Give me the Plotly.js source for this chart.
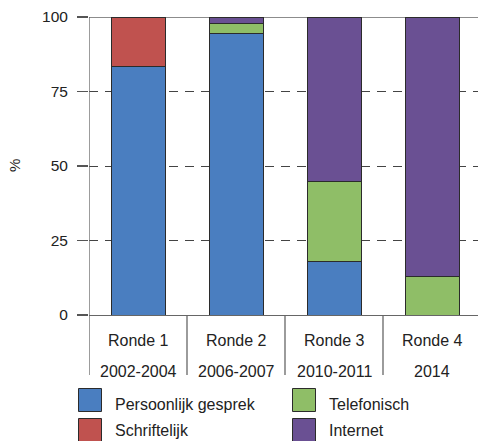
<!DOCTYPE html>
<html>
<head>
<meta charset="utf-8">
<script src="https://cdn.plot.ly/plotly-3.0.1.min.js"></script>
<style>html,body{margin:0;padding:0;background:#fff;}#chart{width:478px;height:441px;}</style>
</head>
<body>
<div id="chart"></div>
<script>
var categories = ["Ronde 1", "Ronde 2", "Ronde 3", "Ronde 4"];
var periods = ["2002-2004", "2006-2007", "2010-2011", "2014"];
var seriesNames = ["Persoonlijk gesprek", "Schriftelijk", "Telefonisch", "Internet"];
var persoonlijk = [83.3, 94.6, 18.1, 0];
var schriftelijk = [16.7, 0, 0, 0];
var telefonisch = [0, 3.3, 26.8, 13.0];
var internet = [0, 2.1, 55.1, 87.0];
var yTicks = [0, 25, 50, 75, 100];

var colors = ["#4a7ec0", "#c0524f", "#8fbe67", "#6a5093"];
var values = [persoonlijk, schriftelijk, telefonisch, internet];

var FONT = "Liberation Sans, Arial, sans-serif";
var W = 478, H = 441, ML = 89, MR = 0, MT = 17, MB = 126;
var PW = W - ML - MR, PH = H - MT - MB;
function px2x(px) { return (px - ML) / PW; }
function py2y(py) { return (H - MB - py) / PH; }

var traces = seriesNames.map(function (name, i) {
  return {
    type: "bar", name: name, x: [0, 1, 2, 3], y: values[i],
    marker: { color: colors[i], line: { color: "#2b2b2b", width: 1 } },
    hoverinfo: "skip", showlegend: false
  };
});

var shapes = [];
var annotations = [];
shapes.push({ type: "line", xref: "paper", yref: "y", x0: 0, x1: 1, y0: 100, y1: 100,
  line: { color: "#666", width: 1.3 }, layer: "below" });
for (var k = 0; k < categories.length; k++) {
  shapes.push({ type: "line", xref: "x", yref: "paper", x0: k - 0.5, x1: k - 0.5,
    y0: k === 0 ? 1 : 0, y1: py2y(375), line: { color: "#666", width: 1.3 } });
  annotations.push({ xref: "x", yref: "paper", x: k, y: py2y(340), text: categories[k],
    showarrow: false, xanchor: "center", yanchor: "middle", font: { family: FONT, size: 16, color: "#222" } });
  annotations.push({ xref: "x", yref: "paper", x: k, y: py2y(371), text: periods[k],
    showarrow: false, xanchor: "center", yanchor: "middle", font: { family: FONT, size: 16, color: "#222" } });
}
var legPos = [[78.5, 388.5, 113, 404], [78.5, 418.5, 113, 430.5], [292.5, 388.5, 327, 404], [292.5, 418.5, 327, 430.5]];
for (var j = 0; j < seriesNames.length; j++) {
  var p = legPos[j];
  shapes.push({ type: "rect", xref: "paper", yref: "paper",
    x0: px2x(p[0]), x1: px2x(p[0] + 23), y0: py2y(p[1]), y1: py2y(p[1] + 23),
    fillcolor: colors[j], line: { color: "#2b2b2b", width: 1 } });
  annotations.push({ xref: "paper", yref: "paper", x: px2x(p[2]), y: py2y(p[3]),
    text: seriesNames[j], showarrow: false, xanchor: "left", yanchor: "middle",
    font: { family: FONT, size: 16, color: "#222" } });
}
annotations.push({ xref: "paper", yref: "paper", x: px2x(14), y: py2y(166), text: "%",
  textangle: -90, showarrow: false, xanchor: "center", yanchor: "middle",
  font: { family: FONT, size: 15, color: "#222" } });

var layout = {
  width: W, height: H,
  margin: { l: ML, r: MR, t: MT, b: MB, pad: 0 },
  paper_bgcolor: "#fff", plot_bgcolor: "#fff",
  barmode: "stack", bargap: 0.449,
  showlegend: false,
  xaxis: { range: [-0.5, -0.5 + PW / 98], showticklabels: false, ticks: "",
    showgrid: false, zeroline: false, showline: true, linecolor: "#666", linewidth: 1.3, fixedrange: true },
  yaxis: { range: [0, 100], tickvals: yTicks, ticks: "outside", ticklen: 11, tickcolor: "#555", tickwidth: 1.3,
    tickfont: { family: FONT, size: 15.5, color: "#222" }, ticklabelstandoff: 6,
    showgrid: true, gridcolor: "#444", gridwidth: 1, griddash: "9px,7px",
    zeroline: false, showline: false, fixedrange: true },
  shapes: shapes,
  annotations: annotations
};

Plotly.newPlot("chart", traces, layout, { staticPlot: true, displayModeBar: false });
</script>
</body>
</html>
